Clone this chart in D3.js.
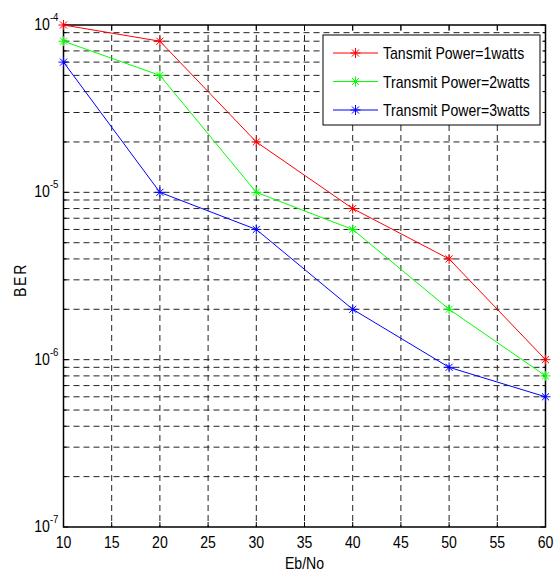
<!DOCTYPE html>
<html>
<head>
<meta charset="utf-8">
<script src="https://cdn.jsdelivr.net/npm/d3@7"></script>
<style>
  body { margin: 0; background: #fff; }
  text { font-family: "Liberation Sans", Arial, sans-serif; }
</style>
</head>
<body>
<svg id="chart" width="557" height="575"></svg>
<script>
// chart data
var ebNo = [10, 20, 30, 40, 50, 60];
var ber1w = [1e-4, 8e-5, 2e-5, 8e-6, 4e-6, 1e-6];
var ber2w = [8e-5, 5e-5, 1e-5, 6e-6, 2e-6, 8e-7];
var ber3w = [6e-5, 1e-5, 6e-6, 2e-6, 9e-7, 6e-7];
var seriesNames = ["Tansmit Power=1watts", "Transmit Power=2watts", "Transmit Power=3watts"];
var seriesColours = ["#ff0000", "#00ff00", "#0000ff"];
var xTicks = [10, 15, 20, 25, 30, 35, 40, 45, 50, 55, 60];
var yDecades = [-7, -6, -5, -4];

var margin = {top: 25, right: 12, bottom: 48, left: 63.5};
var width = 545.5 - margin.left,
    height = 527 - margin.top;
var squeeze = 0.88; // narrow look of the original font

var svg = d3.select("#chart");
var g = svg.append("g")
    .attr("transform", "translate(" + margin.left + "," + margin.top + ")");

var x = d3.scaleLinear().domain([10, 60]).range([0, width]);
var y = d3.scaleLog().domain([1e-7, 1e-4]).range([height, 0]);

// text placed at (px,py), squeezed horizontally
function label(parent, px, py, anchor, size) {
    return parent.append("g")
        .attr("transform", "translate(" + px + "," + py + ") scale(" + squeeze + ",1)")
        .append("text")
        .attr("text-anchor", anchor)
        .style("font-size", size + "px");
}

// y grid values: every 1..9 per decade
var yGrid = [];
yDecades.slice(0, 3).forEach(function(e) {
    for (var m = 1; m < 10; m++) yGrid.push(m * Math.pow(10, e));
});
yGrid.push(1e-4);

// grid lines
g.selectAll(".xgrid")
    .data(xTicks.slice(1, -1))
    .enter().append("line")
    .attr("class", "xgrid")
    .attr("x1", function(d) { return x(d); })
    .attr("x2", function(d) { return x(d); })
    .attr("y1", 0).attr("y2", height)
    .style("stroke", "#222").style("stroke-dasharray", "6,4");

g.selectAll(".ygrid")
    .data(yGrid.filter(function(d) { return d > 1.01e-7 && d < 0.99e-4; }))
    .enter().append("line")
    .attr("class", "ygrid")
    .attr("y1", function(d) { return y(d); })
    .attr("y2", function(d) { return y(d); })
    .attr("x1", 0).attr("x2", width)
    .style("stroke", "#222").style("stroke-dasharray", "6,4");

// axes - ticks inside, on all sides
var tickG = g.append("g").attr("class", "ticks");
xTicks.forEach(function(t) {
    tickG.append("line").attr("x1", x(t)).attr("x2", x(t)).attr("y1", height).attr("y2", height - 5).style("stroke", "#000");
    tickG.append("line").attr("x1", x(t)).attr("x2", x(t)).attr("y1", 0).attr("y2", 5).style("stroke", "#000");
});
yGrid.forEach(function(t) {
    var major = Math.abs(Math.log10(t) - Math.round(Math.log10(t))) < 1e-6;
    var len = major ? 5 : 3;
    tickG.append("line").attr("y1", y(t)).attr("y2", y(t)).attr("x1", 0).attr("x2", len).style("stroke", "#000");
    tickG.append("line").attr("y1", y(t)).attr("y2", y(t)).attr("x1", width).attr("x2", width - len).style("stroke", "#000");
});

g.append("rect")
    .attr("width", width).attr("height", height)
    .style("fill", "none").style("stroke", "#000").style("stroke-width", 1.5);

// x tick labels
xTicks.forEach(function(t) {
    label(g, x(t), height + 21, "middle", 16).text(t);
});

// y tick labels 10^e
yDecades.forEach(function(e) {
    var t = label(g, -5, y(Math.pow(10, e)) + 5, "end", 16);
    t.append("tspan").text("10");
    t.append("tspan").attr("dy", -9).style("font-size", "11px").text(e);
});

// axis titles
label(g, width / 2, height + 42, "middle", 16).text("Eb/No");

g.append("g")
    .attr("transform", "translate(-38," + (height / 2 + 4) + ") rotate(-90) scale(" + squeeze + ",1)")
    .append("text")
    .attr("text-anchor", "middle")
    .style("font-size", "16px")
    .style("letter-spacing", "2px")
    .text("BER");

// series
var allSeries = [ber1w, ber2w, ber3w];
var line = d3.line()
    .x(function(d, i) { return x(ebNo[i]); })
    .y(function(d) { return y(d); });

function star(sel, colour, size) {
    var s = size / 2, d = s * 0.7071;
    sel.append("path")
        .attr("d", "M" + (-s) + ",0H" + s + "M0," + (-s) + "V" + s +
                   "M" + (-d) + "," + (-d) + "L" + d + "," + d +
                   "M" + (-d) + "," + d + "L" + d + "," + (-d))
        .style("stroke", colour).style("fill", "none");
}

allSeries.forEach(function(vals, k) {
    g.append("path")
        .datum(vals)
        .attr("d", line)
        .style("fill", "none")
        .style("stroke", seriesColours[k])
        .style("stroke-width", 1);

    g.selectAll(".pt" + k)
        .data(vals)
        .enter().append("g")
        .attr("class", "pt" + k)
        .attr("transform", function(d, i) { return "translate(" + x(ebNo[i]) + "," + y(d) + ")"; })
        .each(function() { star(d3.select(this), seriesColours[k], 10); });
});

// legend
var legend = g.append("g")
    .attr("transform", "translate(" + (323 - margin.left) + "," + (35 - margin.top) + ")");
legend.append("rect")
    .attr("width", 217).attr("height", 90)
    .style("fill", "#fff").style("stroke", "#000").style("stroke-width", 1);

seriesNames.forEach(function(name, k) {
    var ly = 18 + k * 28.5;
    var item = legend.append("g").attr("transform", "translate(0," + ly + ")");
    item.append("line").attr("x1", 10).attr("x2", 55).attr("y1", 0).attr("y2", 0)
        .style("stroke", seriesColours[k]);
    var m = item.append("g").attr("transform", "translate(32.5,0)");
    star(m, seriesColours[k], 10);
    label(item, 60, 6, "start", 16).text(name);
});
</script>
</body>
</html>
